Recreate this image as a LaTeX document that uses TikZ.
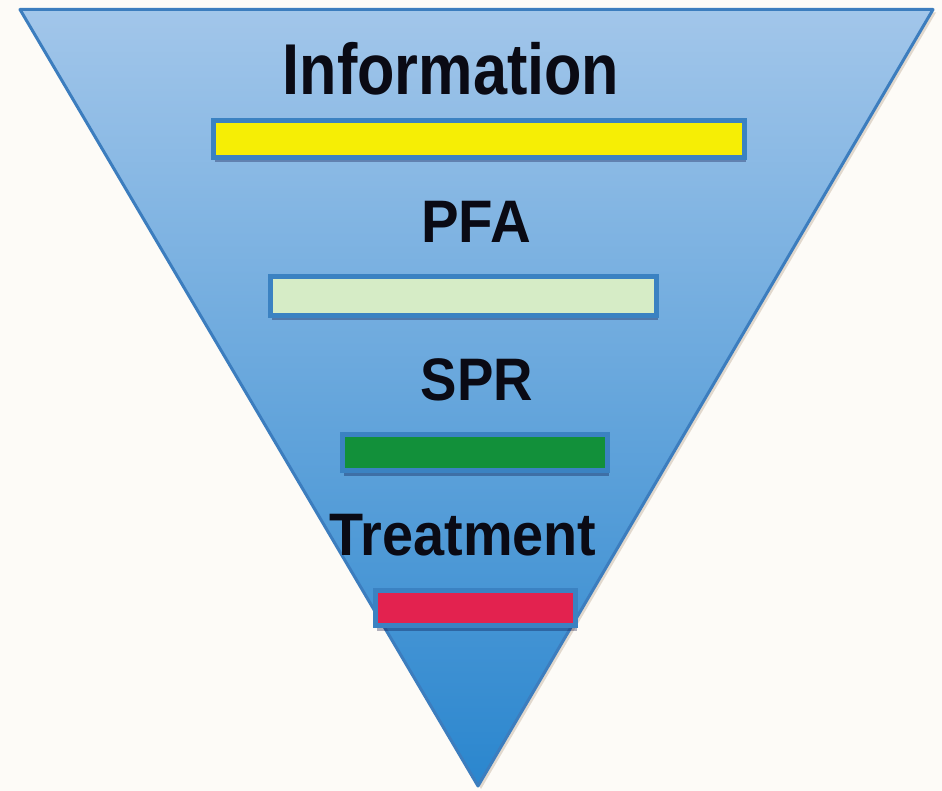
\documentclass[tikz,border=0pt]{standalone}
\usepackage{fontspec}
\setmainfont{Liberation Sans}
\usepackage{tikz}
\usetikzlibrary{shadows}

\definecolor{paper}{HTML}{FDFBF7}
\definecolor{funneltop}{HTML}{A2C6EA}
\definecolor{funnelmid}{HTML}{72AADF}
\definecolor{funnelbot}{HTML}{2A86CE}
\definecolor{funneledge}{HTML}{3C7DBE}
\definecolor{stripeedge}{HTML}{3B82C2}
\definecolor{infoyellow}{HTML}{F6EE05}
\definecolor{pfagreen}{HTML}{D6ECC6}
\definecolor{sprgreen}{HTML}{12903A}
\definecolor{treatred}{HTML}{E3224F}
\definecolor{ink}{HTML}{0A0A14}

\tikzset{
  stripe/.style={draw=stripeedge, line width=5pt,
    drop shadow={shadow xshift=1pt, shadow yshift=-5pt, opacity=0.3, fill=black!80!blue}},
  lbl/.style={anchor=base, inner sep=0pt, text=ink,
    font=\bfseries\fontsize{60}{60}\selectfont}
}

\begin{document}
\begin{tikzpicture}[x=1pt,y=-1pt]
    \useasboundingbox (0,0) rectangle (942,791);
    \fill[paper] (0,0) rectangle (942,791);

    % funnel
    \path[draw=funneledge, line width=3pt, line join=round,
      top color=funneltop, middle color=funnelmid, bottom color=funnelbot,
      drop shadow={shadow xshift=3pt, shadow yshift=-3pt, opacity=0.2, fill=brown!60!black}]
      (20,9.5) -- (933,9.5) -- (478,786) -- cycle;

    % stripes
    \draw[stripe, fill=infoyellow] (213.5,120.5) rectangle (744.5,157.5);
    \draw[stripe, fill=pfagreen] (270.5,276.5) rectangle (656.5,315.5);
    \draw[stripe, fill=sprgreen] (342.5,434.5) rectangle (607.5,470.5);
    \draw[stripe, fill=treatred] (375.5,590.5) rectangle (575.5,625.5);

    % labels
    \node[lbl, font=\bfseries\fontsize{72}{72}\selectfont] (info) at (451,95) {\scalebox{0.85}[1]{Information}};
    \node[lbl] (pfa) at (476,243) {\scalebox{0.94}[1]{PFA}};
    \node[lbl] (spr) at (477,400) {\scalebox{0.91}[1]{SPR}};
    \node[lbl] (treat) at (463,555) {\scalebox{0.93}[1]{Treatment}};
\end{tikzpicture}
\end{document}
